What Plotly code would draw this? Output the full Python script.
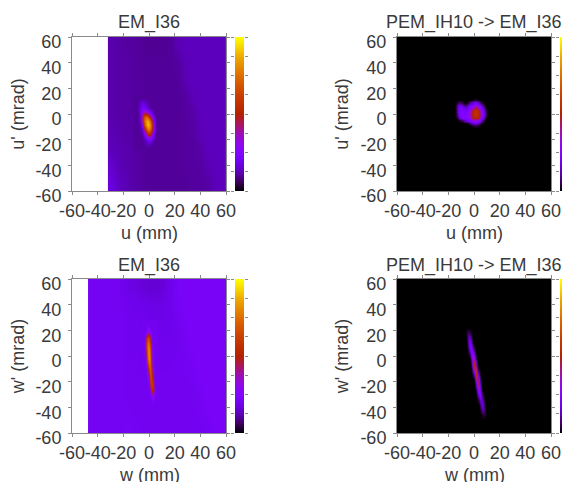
import plotly.graph_objects as go

TICKS = [-60, -40, -20, 0, 20, 40, 60]
TICK_TEXT = ["-60", "-40", "-20", "0", "20", "40", "60"]
TITLES = ["EM_I36", "PEM_IH10 -> EM_I36", "EM_I36", "PEM_IH10 -> EM_I36"]
XLABELS = ["u (mm)", "u (mm)", "w (mm)", "w (mm)"]
YLABELS = ["u' (mrad)", "u' (mrad)", "w' (mrad)", "w' (mrad)"]

# gnuplot pm3d palette
COLORSCALE = [
    [0.0, "#000000"], [0.0625, "#400062"], [0.125, "#5a00b4"], [0.1875, "#6e02ec"],
    [0.25, "#8004ff"], [0.3125, "#8f08ec"], [0.375, "#9c0db4"], [0.4375, "#a91562"],
    [0.5, "#b42000"], [0.625, "#ca3e00"], [0.75, "#dd6c00"], [0.875, "#eeab00"], [1.0, "#ffff00"],
]
BAR_LEVELS = [[0.0], [0.0625], [0.125], [0.1875], [0.25], [0.3125], [0.375], [0.4375], [0.5],
              [0.5625], [0.625], [0.6875], [0.75], [0.8125], [0.875], [0.9375], [1.0]]
BAR_TICKS = [0, 0.125, 0.25, 0.375, 0.5, 0.625, 0.75, 0.875, 1]

# panel A: EM_I36 u-u'
A_bg_x = [-32, -26.25, -20.5, -14.75, -9, -3.25, 2.5, 8.25, 14, 19.75, 25.5, 31.25, 37, 42.75, 48.5, 54.25, 60]
A_bg_y = [-60, -46.67, -33.33, -20, -6.67, 6.67, 20, 33.33, 46.67, 60]
A_bg_z = [
    [.17, .14, .125, .115, .11, .105, .105, .105, .105, .105, .105, .11, .11, .112, .13, .135],
    [.155, .13, .12, .115, .11, .105, .105, .105, .105, .105, .11, .11, .112, .125, .135, .135],
    [.13, .125, .12, .115, .11, .105, .105, .105, .105, .105, .11, .11, .115, .135, .135, .135],
    [.125, .12, .115, .115, .11, .105, .105, .105, .105, .105, .11, .112, .13, .135, .135, .135],
    [.12, .115, .115, .11, .11, .105, .105, .105, .105, .105, .11, .115, .135, .135, .135, .135],
    [.12, .115, .115, .11, .11, .105, .105, .105, .105, .105, .112, .13, .135, .135, .135, .135],
    [.12, .115, .115, .11, .11, .105, .105, .105, .105, .108, .125, .135, .135, .135, .135, .135],
    [.12, .115, .115, .11, .105, .105, .105, .105, .105, .11, .13, .135, .135, .135, .135, .135],
    [.12, .115, .11, .11, .105, .1, .1, .1, .105, .125, .135, .135, .135, .135, .135, .135],
]
A_spot_x = [-12, -10, -8, -6, -4, -2, 0, 2, 4, 6, 8]
A_spot_y = [-28, -25, -22, -19, -16, -13, -10, -7, -4, -1, 2, 5, 8, 11, 14]
A_spot_z = [
    [.105, .105, .105, .105, .105, .105, .105, .105, .105, .105],
    [.105, .105, .105, .105, .115, .14, .125, .105, .105, .105],
    [.105, .105, .105, .11, .13, .2, .22, .13, .105, .105],
    [.105, .105, .105, .12, .2, .36, .36, .18, .105, .105],
    [.105, .105, .105, .14, .32, .6, .58, .24, .115, .105],
    [.105, .105, .115, .2, .58, .8, .76, .36, .115, .105],
    [.105, .105, .12, .36, .76, .92, .82, .4, .115, .105],
    [.105, .105, .14, .52, .8, .9, .74, .3, .11, .105],
    [.105, .105, .16, .55, .74, .72, .5, .2, .105, .105],
    [.105, .105, .17, .38, .45, .38, .24, .13, .105, .105],
    [.105, .11, .18, .26, .26, .2, .14, .105, .105, .105],
    [.105, .115, .17, .22, .18, .14, .11, .105, .105, .105],
    [.105, .105, .14, .17, .14, .115, .105, .105, .105, .105],
    [.105, .105, .105, .105, .105, .105, .105, .105, .105, .105],
]

# panel B: PEM_IH10 -> EM_I36 u-u'
B_bg_x = [-60, 60]
B_bg_y = [-60, 60]
B_bg_z = [[0.0]]
B_spot_x = [-16, -14, -12, -10, -8, -6, -4, -2, 0, 2, 4, 6, 8, 10, 12]
B_spot_y = [-12, -10, -8, -6, -4, -2, 0, 2, 4, 6, 8, 10, 12, 14]
B_spot_z = [
    [0, 0, 0, 0, 0, 0, 0, 0, 0, 0, 0, 0, 0, 0],
    [0, 0, 0, 0, 0, 0, 0, .03, .05, .03, 0, 0, 0, 0],
    [0, 0, 0, 0, 0, .02, .08, .18, .2, .15, .05, 0, 0, 0],
    [0, 0, .02, .06, .15, .2, .25, .3, .33, .3, .22, .05, 0, 0],
    [0, .03, .18, .26, .25, .25, .3, .5, .52, .5, .3, .18, .02, 0],
    [0, .1, .24, .26, .25, .27, .36, .54, .56, .54, .36, .22, .06, 0],
    [0, .14, .26, .26, .24, .27, .36, .55, .57, .55, .36, .24, .08, 0],
    [0, .15, .26, .25, .22, .24, .3, .52, .56, .52, .3, .22, .05, 0],
    [0, .15, .25, .22, .16, .2, .27, .33, .5, .33, .28, .15, .01, 0],
    [0, .12, .2, .12, .05, .12, .2, .26, .32, .26, .2, .06, 0, 0],
    [0, .04, .08, .02, 0, .02, .1, .18, .22, .16, .06, 0, 0, 0],
    [0, 0, 0, 0, 0, 0, 0, .02, .05, .02, 0, 0, 0, 0],
    [0, 0, 0, 0, 0, 0, 0, 0, 0, 0, 0, 0, 0, 0],
]

# panel C: EM_I36 w-w'
C_bg_x = [-47.5, -40.78, -34.06, -27.34, -20.62, -13.91, -7.19, -0.47, 6.25, 12.97, 19.69, 26.41, 33.12, 39.84, 46.56, 53.28, 60]
C_bg_y = [-60, -46.67, -33.33, -20, -6.67, 6.67, 20, 33.33, 46.67, 60]
C_bg_z = [
    [.21, .21, .21, .21, .215, .205, .2, .2, .2, .2, .2, .2, .2, .205, .225, .225],
    [.21, .21, .21, .21, .205, .2, .2, .2, .2, .2, .2, .2, .205, .22, .225, .225],
    [.21, .21, .21, .205, .2, .2, .2, .2, .2, .2, .2, .2, .21, .225, .225, .225],
    [.21, .21, .21, .205, .2, .2, .2, .2, .2, .2, .2, .205, .22, .225, .225, .225],
    [.21, .21, .21, .205, .2, .2, .195, .195, .195, .2, .2, .21, .225, .225, .225, .225],
    [.21, .21, .21, .205, .2, .195, .195, .19, .19, .195, .2, .22, .225, .225, .225, .225],
    [.21, .21, .21, .205, .2, .195, .19, .185, .185, .19, .21, .225, .225, .225, .225, .225],
    [.21, .21, .21, .205, .195, .19, .185, .18, .18, .195, .22, .225, .225, .225, .225, .225],
    [.21, .21, .21, .205, .18, .175, .165, .16, .165, .19, .225, .225, .225, .225, .225, .225],
]
C_spot_x = [-6, -5, -4, -3, -2, -1, 0, 1, 2, 3, 4, 5, 6, 7, 8]
C_spot_y = [-40, -36, -32, -28, -24, -20, -16, -12, -8, -4, 0, 4, 8, 12, 16, 20, 24, 28]
C_spot_z = [
    [.2, .2, .2, .2, .2, .2, .2, .2, .2, .2, .2, .2, .2, .2],
    [.2, .2, .2, .2, .2, .2, .2, .2, .25, .24, .2, .2, .2, .2],
    [.2, .2, .2, .2, .2, .2, .2, .28, .36, .3, .22, .2, .2, .2],
    [.2, .2, .2, .2, .2, .2, .26, .5, .58, .42, .24, .2, .2, .2],
    [.2, .2, .2, .2, .2, .22, .42, .64, .62, .36, .22, .2, .2, .2],
    [.2, .2, .2, .2, .2, .28, .58, .7, .54, .28, .2, .2, .2, .2],
    [.2, .2, .2, .2, .22, .4, .68, .72, .46, .24, .2, .2, .2, .2],
    [.2, .2, .2, .2, .28, .54, .78, .68, .38, .22, .2, .2, .2, .2],
    [.2, .2, .2, .22, .4, .68, .82, .6, .32, .2, .2, .2, .2, .2],
    [.2, .2, .2, .26, .54, .78, .84, .56, .28, .2, .2, .2, .2, .2],
    [.2, .2, .22, .36, .62, .8, .8, .5, .26, .2, .2, .2, .2, .2],
    [.2, .2, .24, .46, .68, .8, .74, .46, .24, .2, .2, .2, .2, .2],
    [.2, .2, .26, .5, .68, .76, .66, .4, .22, .2, .2, .2, .2, .2],
    [.2, .2, .24, .44, .62, .66, .56, .32, .21, .2, .2, .2, .2, .2],
    [.2, .2, .2, .25, .3, .36, .3, .23, .2, .2, .2, .2, .2, .2],
    [.2, .2, .2, .2, .22, .25, .23, .2, .2, .2, .2, .2, .2, .2],
    [.2, .2, .2, .2, .2, .2, .2, .2, .2, .2, .2, .2, .2, .2],
]

# panel D: PEM_IH10 -> EM_I36 w-w'
D_bg_x = [-60, 60]
D_bg_y = [-60, 60]
D_bg_z = [[0.0]]
D_spot_x = [-9, -8, -7, -6, -5, -4, -3, -2, -1, 0, 1, 2, 3, 4, 5, 6, 7, 8, 9, 10]
D_spot_y = [-52, -48, -44, -40, -36, -32, -28, -24, -20, -16, -12, -8, -4, 0, 4, 8, 12, 16, 20, 24]
D_spot_z = [
    [0, 0, 0, 0, 0, 0, 0, 0, 0, 0, 0, 0, 0, 0, 0, 0, 0, 0, 0],
    [0, 0, 0, 0, 0, 0, 0, 0, 0, 0, 0, 0, 0, 0, 0, .03, .05, .03, 0],
    [0, 0, 0, 0, 0, 0, 0, 0, 0, 0, 0, 0, 0, .005, .07, .12, .09, .03, 0],
    [0, 0, 0, 0, 0, 0, 0, 0, 0, 0, 0, 0, 0, .07, .17, .17, .07, 0, 0],
    [0, 0, 0, 0, 0, 0, 0, 0, 0, 0, 0, 0, .05, .18, .24, .1, .01, 0, 0],
    [0, 0, 0, 0, 0, 0, 0, 0, 0, 0, 0, .04, .2, .3, .2, .04, 0, 0, 0],
    [0, 0, 0, 0, 0, 0, 0, 0, 0, 0, .02, .18, .33, .24, .07, 0, 0, 0, 0],
    [0, 0, 0, 0, 0, 0, 0, 0, 0, .01, .18, .42, .42, .18, .01, 0, 0, 0, 0],
    [0, 0, 0, 0, 0, 0, 0, 0, 0, .14, .48, .58, .3, .03, 0, 0, 0, 0, 0],
    [0, 0, 0, 0, 0, 0, 0, 0, .1, .46, .64, .46, .1, 0, 0, 0, 0, 0, 0],
    [0, 0, 0, 0, 0, 0, 0, .05, .38, .64, .5, .15, .01, 0, 0, 0, 0, 0, 0],
    [0, 0, 0, 0, 0, 0, .01, .22, .5, .5, .22, .01, 0, 0, 0, 0, 0, 0, 0],
    [0, 0, 0, 0, 0, 0, .1, .33, .4, .2, .03, 0, 0, 0, 0, 0, 0, 0, 0],
    [0, 0, 0, 0, 0, .06, .25, .34, .21, .05, 0, 0, 0, 0, 0, 0, 0, 0, 0],
    [0, 0, 0, 0, .03, .18, .3, .23, .07, 0, 0, 0, 0, 0, 0, 0, 0, 0, 0],
    [0, 0, 0, 0, .11, .24, .2, .07, 0, 0, 0, 0, 0, 0, 0, 0, 0, 0, 0],
    [0, 0, 0, .04, .13, .15, .08, .01, 0, 0, 0, 0, 0, 0, 0, 0, 0, 0, 0],
    [0, 0, .01, .05, .08, .04, .01, 0, 0, 0, 0, 0, 0, 0, 0, 0, 0, 0, 0],
    [0, 0, 0, 0, 0, 0, 0, 0, 0, 0, 0, 0, 0, 0, 0, 0, 0, 0, 0],
]

# The page keeps an 8 px body margin, so figure coordinates are window pixels minus 8.
W, H = 562, 474
PLOT_SIZE = 154
LEFTS = [64, 389, 64, 389]
TOPS = [29, 29, 271, 271]
BAR_OFFSET, BAR_WIDTH = 163, 9
FONT = "Liberation Sans"
TEXT = "#3a3a3a"
GRAY = "#8a8a8a"

PANELS = [
    (A_bg_x, A_bg_y, A_bg_z, A_spot_x, A_spot_y, A_spot_z),
    (B_bg_x, B_bg_y, B_bg_z, B_spot_x, B_spot_y, B_spot_z),
    (C_bg_x, C_bg_y, C_bg_z, C_spot_x, C_spot_y, C_spot_z),
    (D_bg_x, D_bg_y, D_bg_z, D_spot_x, D_spot_y, D_spot_z),
]

fig = go.Figure()
layout = dict(
    width=W, height=H, margin=dict(l=0, r=0, t=0, b=0), autosize=False,
    paper_bgcolor="white", plot_bgcolor="white", showlegend=False,
    font=dict(family=FONT, color=TEXT), annotations=[],
)
for i, (bx, by, bz, sx, sy, sz) in enumerate(PANELS):
    n = i + 1
    suffix = "" if n == 1 else str(n)
    for x, y, z in ((bx, by, bz), (sx, sy, sz)):
        fig.add_trace(go.Heatmap(x=x, y=y, z=z, colorscale=COLORSCALE, zmin=0, zmax=1, showscale=False,
                                 zsmooth="best", xaxis=f"x{suffix}", yaxis=f"y{suffix}", hoverinfo="skip"))
    left, top = LEFTS[i], TOPS[i]
    y_domain = [1 - (top + PLOT_SIZE) / H, 1 - top / H]
    axis_style = dict(
        range=[-60, 60], tickmode="array", tickvals=TICKS, ticktext=TICK_TEXT, ticks="outside", ticklen=3,
        tickwidth=1, tickangle=0, tickcolor=GRAY, linecolor=GRAY, linewidth=1, showline=True,
        mirror="ticks", showgrid=False, zeroline=False, ticklabeloverflow="allow",
        tickfont=dict(size=18, color=TEXT, family=FONT),
    )
    layout[f"xaxis{suffix}"] = dict(
        axis_style, domain=[left / W, (left + PLOT_SIZE) / W], anchor=f"y{suffix}", automargin=False,
    )
    layout[f"yaxis{suffix}"] = dict(
        axis_style, domain=y_domain, anchor=f"x{suffix}", automargin=False,
        ticklabelshift=5, ticklabelstandoff=3,
        title=dict(text=YLABELS[i], font=dict(size=18, color=TEXT), standoff=7),
    )
    # colour bar as its own small axes, so it sits exactly beside the panel
    bar = str(n + 4)
    fig.add_trace(go.Heatmap(x=[0, 1], y=[k[0] for k in BAR_LEVELS], z=BAR_LEVELS, colorscale=COLORSCALE,
                             zmin=0, zmax=1, showscale=False, zsmooth="best",
                             xaxis=f"x{bar}", yaxis=f"y{bar}", hoverinfo="skip"))
    layout[f"xaxis{bar}"] = dict(
        domain=[(left + BAR_OFFSET) / W, min(1, (left + BAR_OFFSET + BAR_WIDTH) / W)], anchor=f"y{bar}",
        range=[0, 1], visible=False, fixedrange=True,
    )
    layout[f"yaxis{bar}"] = dict(
        domain=y_domain, anchor=f"x{bar}", range=[0, 1], tickvals=BAR_TICKS, ticks="outside", ticklen=3,
        tickwidth=1, tickcolor=GRAY, showticklabels=False, showline=True, linecolor="rgba(0,0,0,0)",
        mirror="ticks", showgrid=False, zeroline=False, automargin=False,
    )
    layout["annotations"].append(dict(
        text=TITLES[i], xref="paper", yref="paper", x=(left + PLOT_SIZE / 2) / W,
        y=1 - (top - 14) / H, xanchor="center", yanchor="middle", showarrow=False,
        font=dict(size=18, color=TEXT, family=FONT),
    ))
    # x-axis label as an annotation: an axis title gets pushed up at the figure's lower edge
    layout["annotations"].append(dict(
        text=XLABELS[i], xref="paper", yref="paper", x=(left + PLOT_SIZE / 2) / W,
        y=1 - (top + PLOT_SIZE + 42) / H, xanchor="center", yanchor="middle", showarrow=False,
        font=dict(size=18, color=TEXT, family=FONT),
    ))
fig.update_layout(**layout)
fig.write_html("out.html")
